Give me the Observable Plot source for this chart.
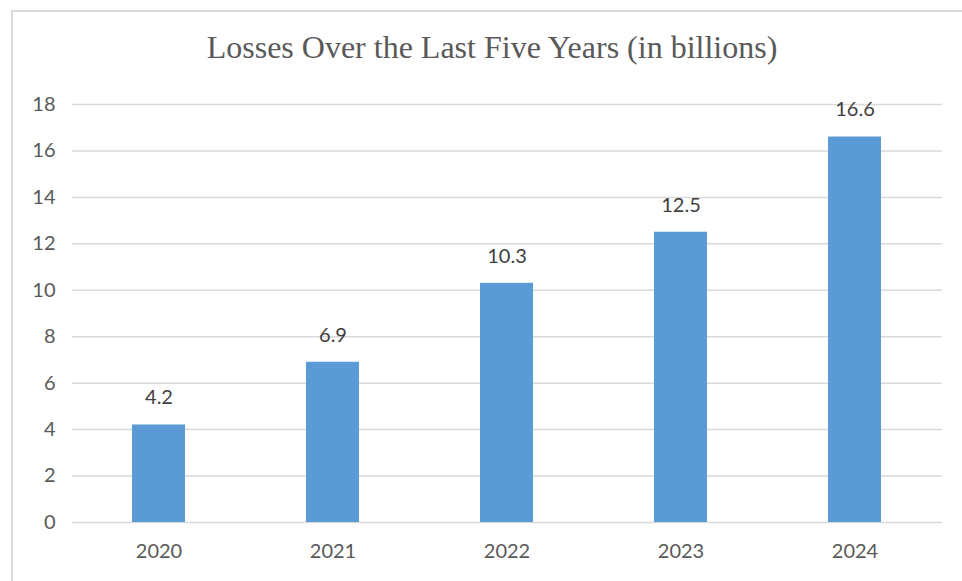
<!DOCTYPE html>
<html>
<head>
<meta charset="utf-8">
<script src="https://cdn.jsdelivr.net/npm/d3@7"></script>
<script src="https://cdn.jsdelivr.net/npm/@observablehq/plot@0.6"></script>
<style>
  html, body { margin: 0; padding: 0; background: #fff; }
  #wrap { position: relative; width: 962px; height: 581px; overflow: hidden; }
  #frame { position: absolute; left: 11px; top: 10px; right: -5px; bottom: -5px;
           border-left: 2px solid #d9d9d9; border-top: 2px solid #d9d9d9; }
  #title { position: absolute; left: 0; width: 984px; top: 28px; text-align: center;
           font-family: "Liberation Serif", "Times New Roman", serif; font-size: 32px; color: #595959;
           white-space: nowrap; line-height: 38px; }
  #chart { position: absolute; left: 0; top: 0; }
</style>
</head>
<body>
<div id="wrap">
  <div id="frame"></div>
  <div id="chart"></div>
  <div id="title">Losses Over the Last Five Years (in billions)</div>
</div>
<script>
const years = ["2020", "2021", "2022", "2023", "2024"];
const losses = [4.2, 6.9, 10.3, 12.5, 16.6];
const yTicks = [0, 2, 4, 6, 8, 10, 12, 14, 16, 18];

const data = years.map((y, i) => ({year: y, value: losses[i]}));

const chart = Plot.plot({
  width: 962,
  height: 581,
  marginLeft: 72,
  marginRight: 20,
  marginTop: 104,
  marginBottom: 59,
  style: {fontFamily: "Lato, 'Open Sans', sans-serif", fontSize: "20px", color: "#595959", background: "transparent"},
  x: {domain: years, paddingInner: 0.695, paddingOuter: 0.3475, label: null},
  y: {domain: [0, 18], label: null},
  marks: [
    Plot.gridY(yTicks, {stroke: "#d9d9d9", strokeOpacity: 1, strokeWidth: 1.5}),
    Plot.axisY(yTicks, {tickSize: 0, tickPadding: 17, fontSize: 20, fill: "#595959", label: null}),
    Plot.axisX({tickSize: 0, tickPadding: 21, fontSize: 20, fill: "#595959", label: null}),
    Plot.barY(data, {x: "year", y: "value", fill: "#5b9bd5"}),
    Plot.text(data, {x: "year", y: "value", text: d => d.value.toFixed(1), dy: -27, fontSize: 20, fill: "#404040"})
  ]
});
document.getElementById("chart").appendChild(chart);
</script>
</body>
</html>
